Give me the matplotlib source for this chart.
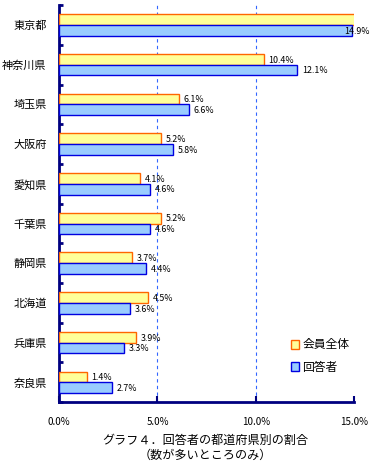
import matplotlib
matplotlib.use("Agg")
import matplotlib.pyplot as plt
from matplotlib.patches import Patch
import numpy as np

plt.rcParams['font.family'] = ['Noto Sans CJK JP', 'DejaVu Sans']

PREFS = ["東京都", "神奈川県", "埼玉県", "大阪府", "愛知県",
         "千葉県", "静岡県", "北海道", "兵庫県", "奈良県"]
# 会員全体 for 東京都 runs off the chart (no label shown) -> estimate
MEMBERS = [20.0, 10.4, 6.1, 5.2, 4.1, 5.2, 3.7, 4.5, 3.9, 1.4]
RESPOND = [14.9, 12.1, 6.6, 5.8, 4.6, 4.6, 4.4, 3.6, 3.3, 2.7]
XTICKS = [0, 5, 10, 15]
NAVY = "#000080"

fig = plt.figure(figsize=(3.84, 4.72), dpi=100)
ax = fig.add_axes([0.154, 0.148, 0.768, 0.841])

y = np.arange(len(PREFS))
h = 0.27
ax.barh(y - 0.135, MEMBERS, height=h, color="#ffff99", edgecolor="#ff6600",
        linewidth=1.0, label="会員全体", zorder=3)
ax.barh(y + 0.135, RESPOND, height=h, color="#99ccff", edgecolor="#0000e0",
        linewidth=1.0, label="回答者", zorder=3)

for yi, m, r in zip(y, MEMBERS, RESPOND):
    for val, off in ((m, -0.135), (r, 0.135)):
        if val > 15:
            continue
        if val > 14:
            ax.text(14.5, yi + off + 0.02, f"{val:.1f}%", fontsize=6.4,
                    va="center", ha="left", zorder=4, clip_on=False)
        else:
            ax.annotate(f"{val:.1f}%", (val, yi + off + 0.02), textcoords="offset points",
                        xytext=(3.5, 0), fontsize=6.4, va="center", ha="left", zorder=4)

for gx in (5, 10):
    ax.axvline(gx, color="#3366ff", ls=(0, (3, 3)), lw=0.8, zorder=1)

ax.set_xlim(0, 15)
ax.set_ylim(len(PREFS) - 0.5, -0.5)
ax.set_xticks(XTICKS)
ax.set_xticklabels([f"{v:.1f}%" for v in XTICKS], fontsize=7)
ax.set_yticks(y)
ax.set_yticklabels(PREFS, fontsize=8)
ax.set_yticks(np.arange(len(PREFS) + 1) - 0.5, minor=True)
ax.tick_params(axis="y", which="major", length=0, pad=9)
ax.tick_params(axis="y", which="minor", length=3, width=2, direction="in", color=NAVY)
ax.tick_params(axis="x", length=4, width=1.5, direction="in", color=NAVY, pad=11)

for s in ("top", "right"):
    ax.spines[s].set_visible(False)
for s in ("left", "bottom"):
    ax.spines[s].set_color(NAVY)
    ax.spines[s].set_linewidth(2)

handles = [Patch(facecolor="#ffff99", edgecolor="#ff6600", label="会員全体"),
           Patch(facecolor="#99ccff", edgecolor="#0000e0", label="回答者")]
ax.legend(handles=handles, loc="lower right", bbox_to_anchor=(1.0, 0.06),
          frameon=False, fontsize=8.5, handlelength=0.7, handleheight=0.8,
          handletextpad=0.3, labelspacing=0.8, borderaxespad=0)

fig.text(0.534, 0.068, "グラフ４．回答者の都道府県別の割合", fontsize=8.7,
         ha="center", va="center")
fig.text(0.534, 0.036, "（数が多いところのみ）", fontsize=8.7,
         ha="center", va="center")

fig.savefig("out.png", dpi=100)
